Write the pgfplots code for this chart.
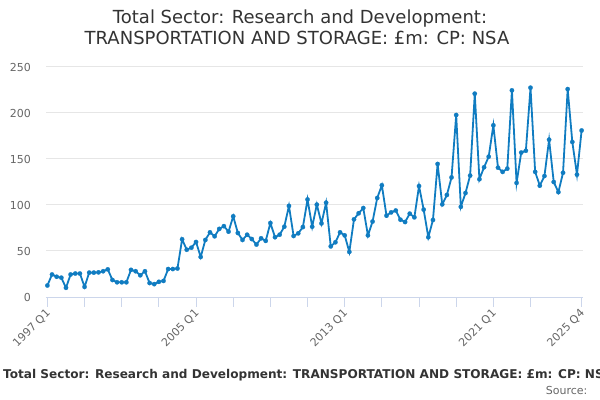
\documentclass[border=0pt]{standalone}
\usepackage{pgfplots}
\pgfplotsset{compat=1.18}
\usepackage{fontspec}
\setmainfont{DejaVu Sans}
\definecolor{linecol}{RGB}{16,124,193}
\definecolor{axiscol}{HTML}{CCD6EB}
\definecolor{gridcol}{HTML}{E6E6E6}
\definecolor{titlecol}{HTML}{333333}
\definecolor{labcol}{HTML}{666666}
\begin{document}
\begin{tikzpicture}
\begin{axis}[
  at={(46bp,103bp)}, anchor=south west,
  scale only axis, width=537bp, height=230bp,
  xmin=-0.3, xmax=115.3, ymin=0, ymax=250,
  axis x line*=bottom, axis y line*=left,
  x axis line style={draw=axiscol, line width=1bp, -},
  y axis line style={draw=none},
  xtick style={draw=axiscol, line width=1bp},
  ytick style={draw=none},
  tick align=outside,
  major tick length=10bp,
  ymajorgrids, xmajorgrids=false,
  grid style={draw=gridcol, line width=1bp},
  ytick={0,50,100,150,200,250},
  xtick={0,8,16,24,32,40,48,56,64,72,80,88,96,104,115},
  xticklabels={{1997 Q1},{},{},{},{2005 Q1},{},{},{},{2013 Q1},{},{},{},{2021 Q1},{},{2025 Q4}},
  /pgf/number format/assume math mode=true,
  yticklabel style={font=\fontsize{11bp}{13bp}\selectfont, text=labcol, xshift=-1.5bp},
  xticklabel style={font=\fontsize{11bp}{13bp}\selectfont, text=labcol, rotate=45, anchor=east, yshift=-4bp, xshift=1bp},
  clip=false,
]
\addplot[color=linecol, line width=1.8bp, mark=*, mark size=2.2bp, mark options={fill=linecol, draw=linecol, line width=0.2bp}] coordinates {
(0,12.5) (1,24.5) (2,22) (3,21) (4,10) (5,24.5) (6,25.5) (7,25.5) (8,11) (9,26.5)
(10,26.5) (11,26.8) (12,28) (13,30) (14,18.5) (15,16) (16,16) (17,16) (18,29.5) (19,28)
(20,23.6) (21,28) (22,15.2) (23,14) (24,16.5) (25,17.5) (26,30.4) (27,30.4) (28,31) (29,62.7)
(30,51.4) (31,53.6) (32,59.8) (33,43.5) (34,62) (35,70.3) (36,66) (37,74) (38,77) (39,71)
(40,87.7) (41,69.6) (42,62) (43,67.7) (44,63) (45,57) (46,63.8) (47,61) (48,80.4) (49,65)
(50,67.7) (51,76.4) (52,99) (53,66.3) (54,69.2) (55,76) (56,106) (57,76.4) (58,100.4) (59,80)
(60,102.5) (61,55) (62,59.5) (63,70.3) (64,67) (65,49) (66,84.4) (67,91) (68,96.7) (69,67)
(70,82) (71,107.6) (72,121.4) (73,88.4) (74,92) (75,94) (76,84) (77,81.5) (78,90.6) (79,86.6)
(80,120.6) (81,95) (82,65) (83,83.7) (84,144.6) (85,100.7) (86,110.9) (87,130) (88,197.8) (89,98)
(90,113) (91,132) (92,221) (93,128) (94,141) (95,152.5) (96,186.6) (97,140.6) (98,136) (99,139.5)
(100,224.6) (101,124) (102,157) (103,159) (104,227.5) (105,136) (106,121) (107,131.5) (108,171) (109,125)
(110,114) (111,135) (112,226) (113,168.5) (114,133) (115,181)
};
\end{axis}
\pgfresetboundingbox
\useasboundingbox (0,0) rectangle (600bp,400bp);
\node[anchor=base, text=titlecol, font=\fontsize{18bp}{21bp}\selectfont, inner sep=0pt] at (300bp,376bp) {Total Sector: Research and Development:};
\node[anchor=base, text=titlecol, font=\fontsize{18bp}{21bp}\selectfont, inner sep=0pt] at (297bp,355bp) {TRANSPORTATION AND STORAGE: £m: CP: NSA};
\node[anchor=base west, text=titlecol, font=\bfseries\fontsize{12.1bp}{15bp}\selectfont, inner sep=0pt] at (3bp,21.7bp) {Total Sector: Research and Development: TRANSPORTATION AND STORAGE: £m: CP: NSA};
\node[anchor=base east, text=labcol, font=\fontsize{11bp}{13bp}\selectfont, inner sep=0pt] at (587.5bp,5.7bp) {Source:};
\end{tikzpicture}
\end{document}
